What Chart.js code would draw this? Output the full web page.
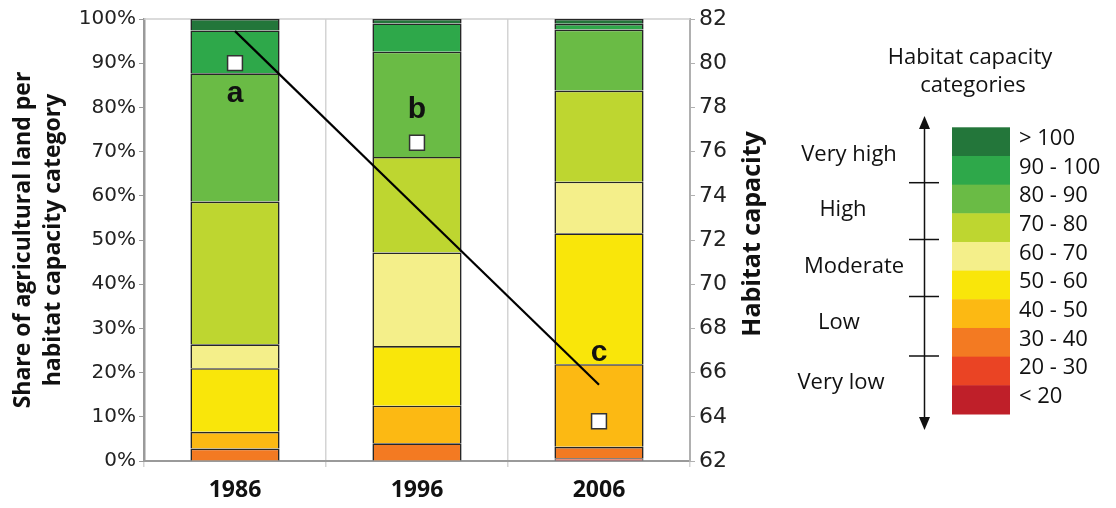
<!DOCTYPE html>
<html>
<head>
<meta charset="utf-8">
<script src="https://cdn.jsdelivr.net/npm/chart.js@4"></script>
<style>
  html, body { margin: 0; padding: 0; background: #fff; }
  #wrap { width: 1116px; height: 508px; }
</style>
</head>
<body>
<div id="wrap"><canvas id="habitatChart" width="1116" height="508"></canvas></div>
<script>
// Years on the x axis
const years = ['1986', '1996', '2006'];

// Share of agricultural land (%) per habitat capacity category, bottom to top
const lt20 = [0, 0, 0.3];
const c20to30 = [0, 0, 0.3];
const c30to40 = [2.8, 4.0, 2.6];
const c40to50 = [3.8, 8.5, 18.7];
const c50to60 = [14.4, 13.5, 29.6];
const c60to70 = [5.4, 21.2, 11.7];
const c70to80 = [32.3, 21.6, 20.6];
const c80to90 = [29.0, 23.8, 13.8];
const c90to100 = [9.7, 6.4, 1.3];
const gt100 = [2.6, 1.0, 1.1];

// Mean habitat capacity (right axis) and its trend line
const habitatCapacity = [80.0, 76.4, 63.8];
const trendLine = [81.45, 73.45, 65.45];
const pointLabels = ['a', 'b', 'c'];

// Tick labels
const shareTicks = ['0%', '10%', '20%', '30%', '40%', '50%', '60%', '70%', '80%', '90%', '100%'];
const capacityTicks = ['62', '64', '66', '68', '70', '72', '74', '76', '78', '80', '82'];

// Legend texts
const legendTitle = ['Habitat capacity', 'categories'];
const categoryNames = ['> 100', '90 - 100', '80 - 90', '70 - 80', '60 - 70', '50 - 60', '40 - 50', '30 - 40', '20 - 30', '< 20'];
const capacityLevels = ['Very high', 'High', 'Moderate', 'Low', 'Very low'];

const categoryColors = ['#23763a', '#2ea84a', '#6abb45', '#bed630', '#f4ef8a', '#f9e60a', '#fcb913', '#f37a22', '#ea4424', '#bf1f29'];
const seriesBottomUp = [lt20, c20to30, c30to40, c40to50, c50to60, c60to70, c70to80, c80to90, c90to100, gt100];

const textFont = '"Open Sans", sans-serif';

// Bars: one dataset per category, stacked from <20 upwards
const barSets = seriesBottomUp.map((values, i) => ({
  type: 'bar',
  label: categoryNames[categoryNames.length - 1 - i],
  data: values,
  backgroundColor: categoryColors[categoryColors.length - 1 - i],
  borderColor: '#262626',
  borderWidth: 1.6,
  categoryPercentage: 1,
  barPercentage: 0.49,
  yAxisID: 'y',
  order: 2,
}));

// Extra drawing: top border, right axis title, a/b/c labels and the legend panel
const extrasPlugin = {
  id: 'extras',
  beforeDatasetsDraw(chart) {
    const { ctx, chartArea } = chart;
    ctx.save();
    ctx.strokeStyle = '#cfcfcf';
    ctx.lineWidth = 1.5;
    ctx.beginPath();
    ctx.moveTo(chartArea.left, chartArea.top);
    ctx.lineTo(chartArea.right, chartArea.top);
    ctx.stroke();
    ctx.restore();
  },
  afterDraw(chart) {
    const { ctx } = chart;
    ctx.save();

    // right axis title, reading bottom to top
    ctx.fillStyle = '#111';
    ctx.font = 'bold 25px ' + textFont;
    ctx.textAlign = 'center';
    ctx.textBaseline = 'middle';
    ctx.translate(753, 234);
    ctx.rotate(-Math.PI / 2);
    ctx.fillText('Habitat capacity', 0, 0);
    ctx.setTransform(1, 0, 0, 1, 0, 0);

    // a / b / c next to the squares
    const pts = chart.getDatasetMeta(chart.data.datasets.length - 1).data;
    const labelOffsets = [31, -33, -68];
    ctx.font = 'bold 30px "Liberation Sans", Arial, sans-serif';
    pts.forEach((p, i) => {
      ctx.fillText(pointLabels[i], p.x, p.y + labelOffsets[i]);
    });

    // legend title
    ctx.font = '22px ' + textFont;
    ctx.fillStyle = '#111';
    ctx.fillText(legendTitle[0], 970, 58);
    ctx.fillText(legendTitle[1], 973, 86);

    // colour boxes and their labels
    const boxTop = 127.3;
    const boxH = 28.67;
    ctx.textAlign = 'left';
    categoryColors.forEach((c, i) => {
      ctx.fillStyle = c;
      ctx.fillRect(952, boxTop + i * boxH, 58, boxH + 0.5);
      ctx.fillStyle = '#111';
      ctx.fillText(categoryNames[i], 1019, boxTop + i * boxH + boxH / 2 - 3);
    });

    // double arrow with level ticks
    const ax = 924.5;
    ctx.strokeStyle = '#111';
    ctx.fillStyle = '#111';
    ctx.lineWidth = 1.5;
    ctx.beginPath();
    ctx.moveTo(ax, 124);
    ctx.lineTo(ax, 422);
    ctx.stroke();
    ctx.beginPath();
    ctx.moveTo(ax, 116);
    ctx.lineTo(ax - 5.5, 129);
    ctx.lineTo(ax + 5.5, 129);
    ctx.closePath();
    ctx.fill();
    ctx.beginPath();
    ctx.moveTo(ax, 430);
    ctx.lineTo(ax - 5.5, 417);
    ctx.lineTo(ax + 5.5, 417);
    ctx.closePath();
    ctx.fill();
    [182.7, 239.5, 296.5, 356].forEach(y => {
      ctx.beginPath();
      ctx.moveTo(909, y);
      ctx.lineTo(939, y);
      ctx.stroke();
    });

    // level names left of the arrow
    ctx.textAlign = 'center';
    const levelPos = [[849, 155], [843, 210], [854, 267], [839, 323], [841, 383]];
    capacityLevels.forEach((name, i) => {
      ctx.fillText(name, levelPos[i][0], levelPos[i][1]);
    });

    ctx.restore();
  },
};

const ctx = document.getElementById('habitatChart').getContext('2d');
const habitatChart = new Chart(ctx, {
  data: {
    labels: years,
    datasets: [
      ...barSets,
      {
        type: 'line',
        label: 'Trend',
        data: trendLine,
        yAxisID: 'y2',
        borderColor: '#000',
        borderWidth: 2.2,
        pointRadius: 0,
        fill: false,
        order: 1,
      },
      {
        type: 'line',
        label: 'Habitat capacity',
        data: habitatCapacity,
        yAxisID: 'y2',
        showLine: false,
        pointStyle: 'rect',
        pointRadius: 10.5,
        pointBackgroundColor: '#fff',
        pointBorderColor: '#333',
        pointBorderWidth: 1.5,
        order: 0,
      },
    ],
  },
  plugins: [extrasPlugin],
  options: {
    responsive: false,
    animation: false,
    layout: { padding: { top: 19, right: 351, left: 0, bottom: 0 } },
    plugins: {
      legend: { display: false },
      tooltip: { enabled: false },
    },
    scales: {
      x: {
        stacked: true,
        offset: true,
        grid: { offset: true, color: '#d4d4d4', lineWidth: 1.5, tickLength: 6 },
        border: { color: '#9a9a9a', width: 2 },
        ticks: {
          color: '#111',
          font: { family: textFont, size: 23, weight: 'bold' },
          padding: 10,
        },
        afterFit: scale => { scale.height = 47; },
      },
      y: {
        position: 'left',
        stacked: true,
        min: 0,
        max: 100,
        grid: { drawOnChartArea: false, color: '#9a9a9a', tickLength: 5 },
        border: { color: '#9a9a9a', width: 2.5 },
        ticks: {
          stepSize: 10,
          color: '#222',
          padding: 3,
          font: { family: '"DejaVu Sans", sans-serif', size: 20 },
          callback: (value, i) => shareTicks[i],
        },
        title: {
          display: true,
          text: ['Share of agricultural land per', 'habitat capacity category'],
          color: '#111',
          font: { family: textFont, size: 23, weight: 'bold', lineHeight: 1.3 },
          padding: { top: 9, bottom: 0 },
        },
        afterFit: scale => { scale.width = 144; },
      },
      y2: {
        position: 'right',
        min: 62,
        max: 82,
        grid: { drawOnChartArea: false, color: '#b0b0b0', tickLength: 5 },
        border: { color: '#b0b0b0', width: 2 },
        ticks: {
          stepSize: 2,
          color: '#222',
          padding: 4,
          font: { family: '"DejaVu Sans", sans-serif', size: 22 },
          callback: (value, i) => capacityTicks[i],
        },
        afterFit: scale => { scale.width = 75; },
      },
    },
  },
});
</script>
</body>
</html>
